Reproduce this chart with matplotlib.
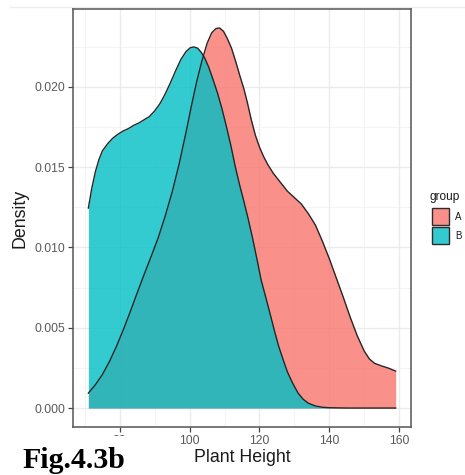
import numpy as np
import matplotlib
matplotlib.use("Agg")
import matplotlib.pyplot as plt
from matplotlib.patches import Rectangle
from matplotlib.ticker import MultipleLocator, FormatStrFormatter

# density estimates of plant height per group
a_height = [71.0, 73.0, 75.0, 77.0, 79.0, 81.0, 83.0, 85.0, 87.0, 89.0, 91.0, 93.0,
            95.0, 97.0, 99.0, 100.5, 102.0, 103.5, 105.0, 106.3, 107.5, 108.6,
            109.7, 110.8, 112.0, 113.3, 114.5, 115.5, 116.5, 117.6, 118.8, 120.0,
            121.2, 122.4, 124.0, 126.0, 128.0, 130.0, 132.0, 134.0, 136.0, 138.0,
            140.0, 142.0, 144.0, 146.0, 148.0, 150.0, 151.5, 153.0, 155.0, 157.0,
            159.0]
a_density = [0.00093, 0.00145, 0.00208, 0.00288, 0.00382, 0.00487, 0.00600,
             0.00718, 0.00833, 0.00945, 0.01060, 0.01195, 0.01345, 0.01520,
             0.01720, 0.01880, 0.02030, 0.02160, 0.02270, 0.02335, 0.02362,
             0.02366, 0.02345, 0.02300, 0.02240, 0.02150, 0.02060, 0.01990,
             0.01905, 0.01800, 0.01700, 0.01625, 0.01565, 0.01515, 0.01460,
             0.01405, 0.01350, 0.01310, 0.01270, 0.01210, 0.01140, 0.01040,
             0.00930, 0.00810, 0.00690, 0.00565, 0.00450, 0.00355, 0.00305,
             0.00278, 0.00262, 0.00248, 0.00230]

b_height = [71.0, 72.0, 73.0, 74.0, 75.0, 76.5, 78.0, 79.5, 81.0, 82.5, 84.0, 85.5,
            87.0, 88.5, 90.0, 91.5, 93.0, 94.5, 96.0, 97.5, 99.0, 100.2, 101.2,
            102.3, 103.3, 104.3, 105.5, 106.7, 108.0, 109.3, 110.5, 111.8, 113.0,
            114.3, 115.5, 116.8, 118.0, 119.3, 120.5, 121.8, 123.0, 124.3, 125.5,
            126.8, 128.0, 129.5, 131.0, 132.5, 134.0, 136.0, 138.0, 140.0, 145.0,
            159.0]
b_density = [0.01245, 0.01370, 0.01470, 0.01545, 0.01600, 0.01645, 0.01680,
             0.01705, 0.01725, 0.01740, 0.01760, 0.01775, 0.01795, 0.01815,
             0.01850, 0.01895, 0.01955, 0.02025, 0.02100, 0.02170, 0.02220,
             0.02243, 0.02248, 0.02240, 0.02215, 0.02180, 0.02120, 0.02045,
             0.01960, 0.01860, 0.01755, 0.01635, 0.01510, 0.01390, 0.01290,
             0.01175, 0.01060, 0.00925, 0.00795, 0.00690, 0.00590, 0.00480,
             0.00385, 0.00300, 0.00225, 0.00155, 0.00095, 0.00055, 0.00030,
             0.00013, 0.00005, 0.00002, 0.0, 0.0]

groups = ["A", "B"]
fills = ["#F8766D", "#00BFC4"]

W, H = 465, 475
fig = plt.figure(figsize=(W / 100, H / 100), dpi=100)
fig.patch.set_facecolor("white")
plt.rcParams["font.family"] = ["Liberation Sans", "DejaVu Sans"]

ax = fig.add_axes([73 / W, 1 - 427 / H, (411 - 73) / W, (427 - 9) / H])
ax.set_facecolor("white")

for xs, ys, col in [(a_height, a_density, fills[0]), (b_height, b_density, fills[1])]:
    ax.fill_between(xs, 0, ys, color=col, alpha=0.8, lw=0, zorder=2)
    ax.plot(xs, ys, color="#262626", lw=1.0, zorder=3, solid_joinstyle="round")

ax.set_xlim(66.6, 163.4)
ax.set_ylim(-0.00118, 0.02484)
ax.xaxis.set_major_locator(MultipleLocator(20))
ax.xaxis.set_minor_locator(MultipleLocator(10))
ax.yaxis.set_major_locator(MultipleLocator(0.005))
ax.yaxis.set_minor_locator(MultipleLocator(0.0025))
ax.yaxis.set_major_formatter(FormatStrFormatter("%.3f"))

ax.grid(which="major", color="#EBEBEB", lw=1.0, zorder=0)
ax.grid(which="minor", color="#F2F2F2", lw=0.6, zorder=0)
ax.set_axisbelow(True)

for s in ax.spines.values():
    s.set_color("#555555")
    s.set_linewidth(1.1)

ax.tick_params(which="major", length=3.5, width=0.9, color="#444444",
               labelsize=8.8, labelcolor="#5a5a5a", pad=2)
ax.tick_params(which="minor", length=0)

ax.set_xlabel("Plant Height", fontsize=12.8, color="#1a1a1a", labelpad=2)
ax.set_ylabel("Density", fontsize=12.8, color="#1a1a1a", labelpad=4)

# legend
fig.text(429 / W, 1 - 197 / H, "group", fontsize=8.6, color="#1a1a1a", va="center", ha="left")
for i, (g, col) in enumerate(zip(groups, fills)):
    top = 208 + i * 19
    fig.add_artist(Rectangle((432 / W, 1 - (top + 17) / H), 17 / W, 17 / H,
                             transform=fig.transFigure, facecolor=col, alpha=0.8,
                             edgecolor="none"))
    fig.add_artist(Rectangle((432 / W, 1 - (top + 17) / H), 17 / W, 17 / H,
                             transform=fig.transFigure, facecolor="none",
                             edgecolor="#2b2b2b", lw=1.0))
    fig.text(455 / W, 1 - (top + 8.5) / H, g, fontsize=7, color="#1a1a1a", va="center", ha="left")

# faint line along the top edge
fig.add_artist(plt.Line2D([10 / W, 1], [1 - 7 / H, 1 - 7 / H], transform=fig.transFigure,
                          color="#eeeeee", lw=1.0, zorder=-1))

# caption over a white block
fig.add_artist(Rectangle((0, 0), 155 / W, 1 - 436 / H, transform=fig.transFigure,
                         facecolor="white", edgecolor="none", zorder=5))
fig.text(22 / W, 1 - 468 / H, "Fig.4.3b", fontsize=21.5, fontweight="bold",
         family=["Liberation Serif", "DejaVu Serif"], color="black", va="baseline",
         ha="left", zorder=6)

fig.savefig("out.png", dpi=100)
